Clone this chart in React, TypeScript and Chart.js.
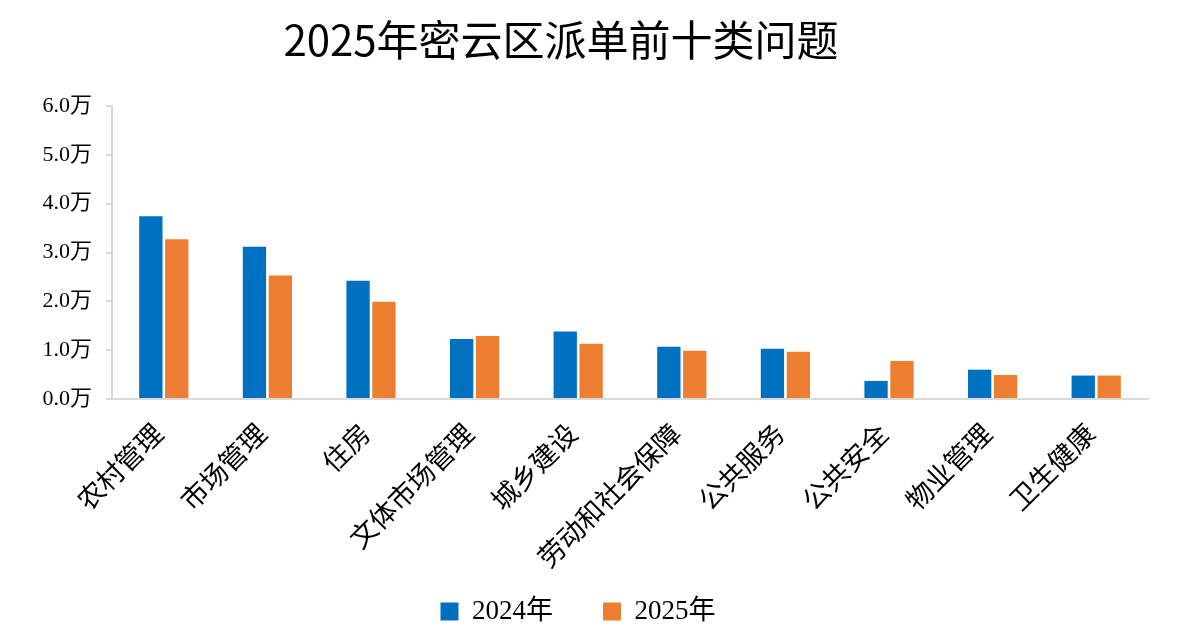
import React, { useEffect, useRef } from "react";
import { Chart, registerables } from "chart.js";

Chart.register(...registerables);

const titleText = "2025年密云区派单前十类问题";
const categories = ["农村管理", "市场管理", "住房", "文体市场管理", "城乡建设", "劳动和社会保障", "公共服务", "公共安全", "物业管理", "卫生健康"];
const series2024 = [3.74, 3.12, 2.42, 1.23, 1.38, 1.07, 1.03, 0.37, 0.6, 0.48];
const series2025 = [3.27, 2.53, 1.99, 1.29, 1.13, 0.99, 0.97, 0.78, 0.49, 0.48];
const seriesNames = ["2024年", "2025年"];
const seriesColors = ["#0070C0", "#ED7D31"];
const yMax = 6;
const yStep = 1;

const serif = "'Liberation Serif', 'Times New Roman', 'Noto Sans CJK SC', serif";

const titlePlugin = {
  id: "customTitle",
  afterLayout(chart: any) {
    const lg = chart.legend;
    if (lg) {
      lg.top += 10;
      lg.bottom += 10;
    }
    const xs = chart.scales.x;
    if (xs) xs.bottom += 60;
  },
  afterDraw(chart: any) {
    const ctx = chart.ctx;
    ctx.save();
    ctx.font = "42px 'Noto Sans CJK SC', sans-serif";
    ctx.fillStyle = "#000";
    ctx.textAlign = "center";
    ctx.textBaseline = "middle";
    ctx.fillText(titleText, 553, 32);
    ctx.restore();
  },
};

export default function App() {
  const ref = useRef<HTMLCanvasElement>(null);
  useEffect(() => {
    if (!ref.current) return;
    const chart = new Chart(ref.current, {
      type: "bar",
      data: {
        labels: categories,
        datasets: [
          { label: seriesNames[0], data: series2024, backgroundColor: seriesColors[0], categoryPercentage: 0.5, barPercentage: 0.9 },
          { label: seriesNames[1], data: series2025, backgroundColor: seriesColors[1], categoryPercentage: 0.5, barPercentage: 0.9 },
        ],
      },
      options: {
        animation: false,
        responsive: false,
        layout: { padding: { top: 98, right: 24, left: 0, bottom: 0 } },
        plugins: {
          title: { display: false },
          tooltip: { enabled: false },
          legend: {
            position: "bottom",
            labels: {
              boxWidth: 18,
              boxHeight: 18,
              padding: 50,
              color: "#000",
              font: { family: serif, size: 27 },
            },
          },
        },
        scales: {
          x: {
            grid: { display: true, drawOnChartArea: false, drawTicks: false },
            border: { color: "#d9d9d9", width: 2 },
            ticks: {
              minRotation: 45,
              maxRotation: 45,
              padding: 18,
              labelOffset: -6,
              color: "#000",
              font: { family: "'Noto Sans CJK SC', serif", size: 27 },
            },
            afterFit(scale: any) {
              scale.height = 139;
            },
          },
          y: {
            min: 0,
            max: yMax,
            grid: { display: true, drawOnChartArea: false, drawTicks: true, tickLength: 6, color: "#d9d9d9", lineWidth: 2 },
            border: { color: "#d9d9d9", width: 2 },
            ticks: {
              stepSize: yStep,
              padding: 14,
              color: "#000",
              font: { family: serif, size: 22 },
              callback: (v: any) => Number(v).toFixed(1) + "万",
            },
            afterFit(scale: any) {
              scale.width = 104;
            },
          },
        },
      },
      plugins: [titlePlugin],
    });
    return () => chart.destroy();
  }, []);
  return (
    <div style={{ width: 1164, height: 617 }}>
      <canvas ref={ref} width={1164} height={617} style={{ width: 1164, height: 617, display: "block" }} />
    </div>
  );
}
